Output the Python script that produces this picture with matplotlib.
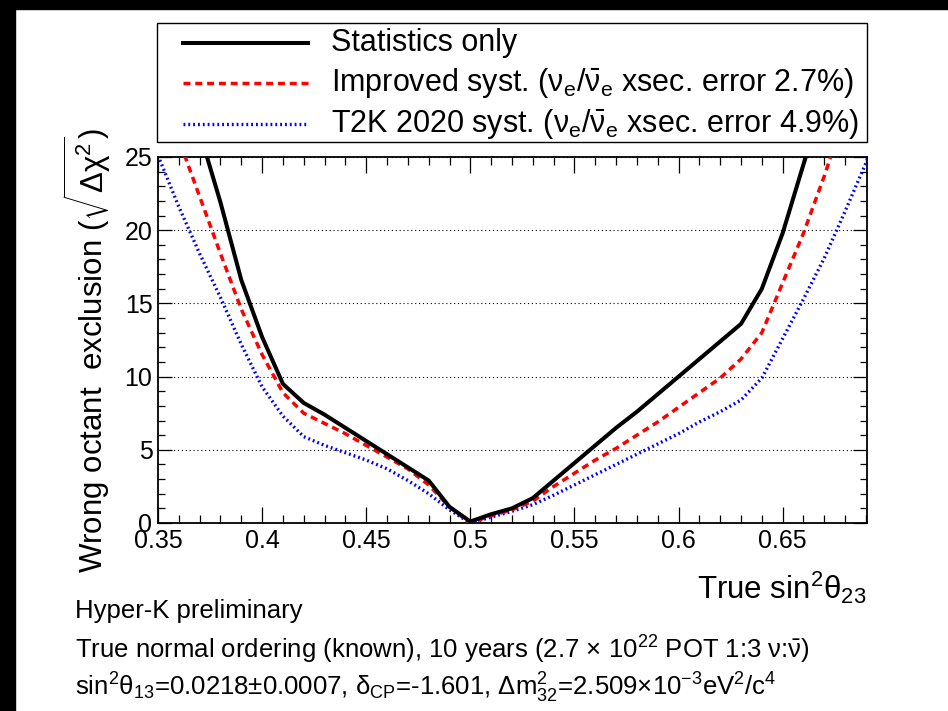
import matplotlib
matplotlib.use("Agg")
import matplotlib.pyplot as plt
from matplotlib.patches import Rectangle
from matplotlib.lines import Line2D
from matplotlib.ticker import MultipleLocator

plt.rcParams['font.family'] = ['Liberation Sans', 'DejaVu Sans']
plt.rcParams['mathtext.fontset'] = 'custom'
plt.rcParams['mathtext.rm'] = 'Liberation Sans'
plt.rcParams['mathtext.it'] = 'Liberation Sans:italic'
plt.rcParams['mathtext.bf'] = 'Liberation Sans:bold'
plt.rcParams['mathtext.sf'] = 'Liberation Sans'
plt.rcParams['mathtext.default'] = 'rm'

# statistics only
x_stat = [0.36, 0.37, 0.38, 0.39, 0.40, 0.41, 0.42, 0.43, 0.44, 0.45, 0.46,
          0.47, 0.48, 0.49, 0.50, 0.51, 0.52, 0.53, 0.54, 0.55, 0.56, 0.57,
          0.58, 0.59, 0.60, 0.61, 0.62, 0.63, 0.64, 0.65, 0.66, 0.67]
y_stat = [31.5, 26.7, 21.9, 16.6, 12.7, 9.5, 8.2, 7.4, 6.5, 5.6, 4.7,
          3.8, 2.9, 1.1, 0.1, 0.6, 1.0, 1.7, 2.9, 4.1, 5.3, 6.5,
          7.6, 8.8, 10.0, 11.2, 12.4, 13.6, 16.0, 19.8, 24.5, 29.0]

# improved systematics
x_impr = [0.35, 0.36, 0.37, 0.38, 0.39, 0.40, 0.41, 0.42, 0.43, 0.44, 0.45,
          0.46, 0.47, 0.48, 0.49, 0.50, 0.51, 0.52, 0.53, 0.54, 0.55, 0.56,
          0.57, 0.58, 0.59, 0.60, 0.61, 0.62, 0.63, 0.64, 0.65, 0.66, 0.67,
          0.68]
y_impr = [30.5, 26.2, 22.3, 18.4, 14.6, 11.5, 8.9, 7.5, 6.8, 6.1, 5.3,
          4.5, 3.7, 2.6, 1.1, 0.0, 0.5, 0.9, 1.5, 2.5, 3.4, 4.3,
          5.1, 6.0, 6.9, 7.9, 8.9, 9.9, 11.2, 13.0, 16.4, 19.8, 23.7,
          28.0]

# T2K 2020 systematics
x_t2k = [0.35, 0.36, 0.37, 0.38, 0.39, 0.40, 0.41, 0.42, 0.43, 0.44, 0.45,
         0.46, 0.47, 0.48, 0.49, 0.50, 0.51, 0.52, 0.53, 0.54, 0.55, 0.56,
         0.57, 0.58, 0.59, 0.60, 0.61, 0.62, 0.63, 0.64, 0.65, 0.66, 0.67,
         0.68, 0.69, 0.70]
y_t2k = [25.1, 21.6, 18.4, 15.4, 12.2, 9.3, 7.3, 5.9, 5.3, 4.8, 4.3,
         3.7, 2.9, 2.0, 0.9, 0.0, 0.4, 0.8, 1.25, 1.9, 2.6, 3.3,
         4.0, 4.7, 5.4, 6.1, 6.9, 7.6, 8.4, 9.9, 12.6, 15.3, 18.1,
         21.3, 24.6, 28.0]

labels = ["Statistics only",
          r"Improved syst. ($\nu_e/\bar{\nu}_e$ xsec. error 2.7%)",
          r"T2K 2020 syst. ($\nu_e/\bar{\nu}_e$ xsec. error 4.9%)"]

W, H = 948, 711


def fx(px):
    return px / W


def fy(py):
    return 1 - py / H


fig = plt.figure(figsize=(W / 100, H / 100), dpi=100)
ax = fig.add_axes([fx(158), fy(523), fx(867) - fx(158), fy(157) - fy(523)])

styles = [dict(color='black', lw=2.9, ls='-'),
          dict(color='#ff0000', lw=2.5, ls=(0, (2.0, 1.4)), dash_capstyle='butt'),
          dict(color='#0000ff', lw=2.4, ls=(0, (0.55, 0.9)), dash_capstyle='butt')]

ax.plot(x_t2k, y_t2k, **styles[2], zorder=3)
ax.plot(x_impr, y_impr, **styles[1], zorder=4)
ax.plot(x_stat, y_stat, **styles[0], zorder=5)

ax.set_xlim(0.35, 0.6905)
ax.set_ylim(0, 25)
ax.xaxis.set_minor_locator(MultipleLocator(0.01))
ax.yaxis.set_minor_locator(MultipleLocator(1))
ax.set_xticks([0.35, 0.4, 0.45, 0.5, 0.55, 0.6, 0.65])
ax.set_xticklabels(['0.35', '0.4', '0.45', '0.5', '0.55', '0.6', '0.65'])
ax.set_yticks([0, 5, 10, 15, 20, 25])
ax.set_yticklabels(['0', '5', '10', '15', '20', '25'])
ax.tick_params(which='both', direction='in', top=True, right=True, width=0.9)
ax.tick_params(axis='x', which='major', length=11.5, labelsize=18, pad=4)
ax.tick_params(axis='x', which='minor', length=5.8)
ax.tick_params(axis='y', which='major', length=10, labelsize=18, pad=4)
ax.tick_params(axis='y', which='minor', length=5)
for sp in ax.spines.values():
    sp.set_linewidth(1.3)
ax.grid(axis='y', which='major', color='black', ls=(0, (1, 2.5)), lw=0.8)

# black frame strips of the original screenshot
fig.patches.append(Rectangle((0, fy(9)), 1, 9 / H, transform=fig.transFigure,
                             color='black', zorder=10))
fig.patches.append(Rectangle((0, 0), fx(15), 1, transform=fig.transFigure,
                             color='black', zorder=10))

# legend box
fig.patches.append(Rectangle((fx(157), fy(142)), fx(867) - fx(157), fy(23) - fy(142),
                             transform=fig.transFigure, fill=False,
                             edgecolor='black', lw=1.0))
for k, yy in enumerate([43, 83, 124]):
    fig.add_artist(Line2D([fx(183), fx(308)], [fy(yy), fy(yy)],
                          transform=fig.transFigure, **styles[k]))
    fig.text(fx(331), fy(yy), labels[k], fontsize=22, va='center', ha='left')

fig.text(fx(87), fy(350), r"Wrong octant  exclusion ($\sqrt{\Delta\chi^{2}}$)",
         rotation=90, fontsize=22.5, ha='center', va='center')
fig.text(fx(866), fy(588), r"True sin$^{2}\theta_{23}$", fontsize=22.5,
         ha='right', va='center')

fig.text(fx(75), fy(611), "Hyper-K preliminary", fontsize=18.5, va='center')
fig.text(fx(75), fy(650),
         r"True normal ordering (known), 10 years (2.7 $\times$ 10$^{22}$ POT 1:3 $\nu$:$\bar{\nu}$)",
         fontsize=18.5, va='center')
fig.text(fx(75), fy(688),
         r"sin$^{2}\theta_{13}$=0.0218$\pm$0.0007, $\delta_{CP}$=-1.601, "
         r"$\Delta$m$^{2}_{32}$=2.509$\times$10$^{-3}$eV$^{2}$/c$^{4}$",
         fontsize=18.5, va='center')

fig.savefig("out.png", dpi=100)
